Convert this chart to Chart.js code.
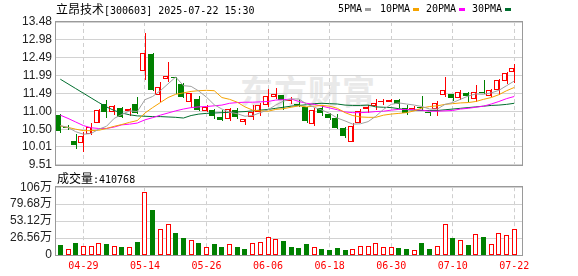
<!DOCTYPE html>
<html><head><meta charset="utf-8">
<script src="https://cdn.jsdelivr.net/npm/chart.js@4"></script>
<style>
html,body{margin:0;padding:0;background:#fff}
body{width:578px;height:276px;overflow:hidden;position:relative}
canvas{position:absolute;left:0}
#pc{top:0;z-index:2}
#vc{top:176px;z-index:2}
.t{position:absolute;white-space:pre;line-height:14px;color:#000;z-index:3}
.cjk{font-family:"Noto Sans CJK SC";font-size:12px}
.mono{font-family:"DejaVu Sans Mono";font-size:10px}
.sw{position:absolute;width:6px;height:3px;top:8px;z-index:3}
#wm{position:absolute;left:240px;top:66px;font:bold 33px "Noto Sans CJK SC";color:#e9e9e9;letter-spacing:1px;z-index:1;white-space:pre}
</style></head>
<body>
<div id="wm">东方财富</div>
<canvas id="pc" width="578" height="176"></canvas>
<canvas id="vc" width="578" height="100"></canvas>
<div class="t" style="left:56px;top:2px"><span class="cjk">立昂技术</span><span class="mono">[300603] 2025-07-22 15:30</span></div>
<div class="t mono" style="left:338px;top:2px">5PMA</div><div class="sw" style="left:365px;background:#a0a0a0"></div>
<div class="t mono" style="left:380px;top:2px">10PMA</div><div class="sw" style="left:413px;background:#f5a300"></div>
<div class="t mono" style="left:426px;top:2px">20PMA</div><div class="sw" style="left:459px;background:#ff00ff"></div>
<div class="t mono" style="left:472px;top:2px">30PMA</div><div class="sw" style="left:505px;background:#006e2e"></div>
<div class="t" style="left:57px;top:171px"><span class="cjk">成交量</span><span class="mono">:410768</span></div>
<script>
const dates = ['04-24','04-25','04-28','04-29','04-30','05-06','05-07','05-08','05-09','05-12','05-13','05-14','05-15','05-16','05-19','05-20','05-21','05-22','05-23','05-26','05-27','05-28','05-29','05-30','06-03','06-04','06-05','06-06','06-09','06-10','06-11','06-12','06-13','06-16','06-17','06-18','06-19','06-20','06-23','06-24','06-25','06-26','06-27','06-30','07-01','07-02','07-03','07-04','07-07','07-08','07-09','07-10','07-11','07-14','07-15','07-16','07-17','07-18','07-21','07-22'];
const tickDates = ['04-29','05-14','05-26','06-06','06-18','06-30','07-10','07-22'];
const opens  = [10.90,10.55,10.16,10.12,10.38,10.68,11.19,10.98,11.10,11.00,11.20,12.11,12.60,11.44,11.89,11.95,11.75,11.26,11.35,11.00,11.04,10.85,10.79,11.04,10.70,10.84,10.99,11.16,11.40,11.46,11.28,11.20,11.11,10.64,11.10,10.91,10.81,10.53,10.15,10.66,11.06,11.15,11.25,11.26,11.32,11.09,11.07,11.10,10.96,11.06,11.44,11.49,11.37,11.50,11.33,11.54,11.43,11.59,11.84,12.08];
const highs  = [10.92,10.62,10.36,10.42,10.68,11.05,11.32,11.16,11.12,11.08,11.40,13.18,12.61,11.80,12.37,11.96,11.78,11.51,11.43,11.16,11.06,11.04,11.09,11.08,10.79,11.18,11.24,11.62,11.64,11.46,11.40,11.32,11.11,11.08,11.16,10.95,10.91,10.57,10.66,11.06,11.18,11.34,11.35,11.33,11.35,11.16,11.15,11.43,10.98,11.27,11.96,11.49,11.60,11.54,11.72,11.86,11.62,11.90,12.10,12.31];
const lows   = [10.40,10.47,9.94,9.86,10.33,10.67,10.81,10.89,10.80,10.86,10.93,11.87,11.57,11.25,11.80,11.49,11.36,11.09,11.00,10.97,10.79,10.73,10.72,10.77,10.62,10.75,10.86,11.12,11.34,11.03,11.21,11.12,10.68,10.60,10.86,10.75,10.51,10.26,10.14,10.66,10.95,11.03,11.16,11.25,11.08,10.89,11.03,11.04,10.86,10.86,11.39,11.27,11.32,11.25,11.26,11.47,11.40,11.46,11.76,11.78];
const closes = [10.45,10.53,10.05,10.30,10.56,11.04,10.97,11.15,10.83,11.05,10.95,12.61,11.59,11.66,11.98,11.91,11.39,11.50,11.03,11.13,10.86,10.76,11.06,10.83,10.77,10.99,11.17,11.42,11.49,11.32,11.30,11.18,10.72,11.03,10.95,10.82,10.53,10.31,10.60,11.01,11.12,11.24,11.27,11.32,11.21,10.96,11.09,11.08,10.95,11.23,11.59,11.36,11.53,11.41,11.53,11.52,11.58,11.86,12.07,12.19];
const prevClose = 10.90;
const ma5  = [10.60,10.55,10.43,10.36,10.38,10.50,10.58,10.80,10.91,11.01,10.99,11.32,11.41,11.57,11.76,11.95,11.71,11.69,11.56,11.39,11.18,11.06,10.97,10.93,10.86,10.88,10.96,11.04,11.17,11.28,11.34,11.34,11.20,11.11,11.03,10.94,10.81,10.73,10.64,10.65,10.71,10.86,11.05,11.19,11.23,11.20,11.17,11.13,11.06,11.06,11.19,11.24,11.33,11.42,11.48,11.47,11.51,11.58,11.71,11.84];
const ma10 = [10.59,10.55,10.50,10.46,10.46,10.47,10.52,10.58,10.63,10.69,10.74,10.95,11.10,11.24,11.38,11.47,11.51,11.55,11.57,11.58,11.57,11.38,11.33,11.25,11.12,11.03,11.01,11.00,11.05,11.07,11.11,11.15,11.12,11.14,11.16,11.14,11.08,10.96,10.88,10.84,10.83,10.83,10.89,10.92,10.94,10.96,11.01,11.09,11.13,11.15,11.19,11.21,11.23,11.24,11.27,11.33,11.38,11.46,11.57,11.66];
const ma20 = [10.89,10.80,10.70,10.60,10.54,10.52,10.52,10.56,10.62,10.64,10.67,10.76,10.82,10.89,10.95,11.01,11.06,11.10,11.12,11.13,11.15,11.17,11.22,11.24,11.25,11.25,11.26,11.27,11.31,11.32,11.34,11.27,11.22,11.19,11.14,11.09,11.04,10.98,10.96,10.96,10.97,10.99,11.00,11.03,11.05,11.05,11.04,11.03,11.00,11.00,11.01,11.02,11.06,11.08,11.11,11.14,11.20,11.27,11.35,11.41];
const ma30 = [11.89,11.76,11.63,11.50,11.37,11.24,11.12,11.02,10.95,10.90,10.87,10.86,10.85,10.85,10.84,10.83,10.81,10.88,10.92,10.94,10.95,10.96,10.97,10.98,10.99,11.01,11.03,11.05,11.08,11.11,11.14,11.16,11.18,11.21,11.22,11.21,11.20,11.17,11.16,11.16,11.17,11.12,11.11,11.10,11.07,11.04,11.03,11.02,11.02,11.02,11.04,11.06,11.08,11.10,11.12,11.14,11.16,11.17,11.19,11.22];
const volumes = [15.8,9.7,18.9,13.8,13.8,18.4,17.4,14.3,12.8,12.8,20.4,98.1,71.0,41.4,49.0,34.2,26.6,23.5,18.9,12.8,17.4,12.8,16.9,12.8,9.7,18.4,20.4,27.6,24.5,22.0,12.8,11.2,17.4,12.3,9.7,8.2,11.2,8.2,9.2,13.8,13.8,18.4,12.3,12.3,11.2,9.7,7.7,18.9,9.7,13.8,49.0,26.6,23.5,15.8,32.2,28.1,16.9,33.7,30.6,41.0768];
const priceTickLabels = ['9.51','10.01','10.50','11.00','11.49','11.99','12.49','12.98','13.48'];
const volTickValues = [0,26.56,53.12,79.68,106.24];
const volTickLabels = ['0','26.56万','53.12万','79.68万','106万'];

const RED='#ff0000', GREEN='#008000', WHITE='#ffffff';
const xMin=-0.56, xMax=60;
const tickIdx = tickDates.map(d=>dates.indexOf(d));
const idx = dates.map((d,i)=>i);
const up = idx.map(i=>closes[i]>=opens[i]);
const volUp = idx.map(i=>closes[i]>=(i===0?prevClose:closes[i-1]));

function xAxis(showLabels){
  return {
    type:'linear', min:xMin, max:xMax, offset:false,
    afterBuildTicks:s=>{ s.ticks = tickIdx.map(v=>({value:v})); },
    afterFit:s=>{ s.height = showLabels?21:0; },
    grid:{color:'#cfcfcf', lineWidth:1, drawTicks:false, offset:false},
    border:{display:false, dash:[4,3]},
    ticks:{display:showLabels, color:RED, autoSkip:false, maxRotation:0, padding:5,
      font:{family:'DejaVu Sans Mono', size:10}, callback:v=>dates[v]}
  };
}
const boxPlugin = {id:'box', afterDraw(c){
  const a=c.chartArea, ctx=c.ctx; ctx.save();
  ctx.strokeStyle='#9a9a9a'; ctx.lineWidth=1;
  ctx.strokeRect(Math.round(a.left)-0.5, Math.round(a.top)-0.5, Math.round(a.right-a.left)+1, Math.round(a.bottom-a.top)+1);
  ctx.restore();
}};
// snap library-computed bar geometry to whole pixels so 1px strokes stay crisp
const snapPlugin = {id:'snap', afterDatasetsUpdate(c){
  c.getSortedVisibleDatasetMetas().forEach(m=>{
    if(m.type!=='bar') return;
    m.data.forEach(el=>{
      const w=Math.round(el.width);
      el.x = (w%2===1) ? Math.floor(el.x)+0.5 : Math.round(el.x);
      let y=Math.round(el.y), b=Math.round(el.base);
      if(y===b){ if(el.y<el.base) y=b-1; else b=y+1; }
      el.y=y; el.base=b;
    });
  });
}};
const yFont = {family:'Liberation Sans', size:12};
const line = (data,color)=>({type:'line', data:idx.map(i=>({x:i,y:data[i]})), borderColor:color, borderWidth:1, pointRadius:0, tension:0, order:0});

new Chart(document.getElementById('pc'), {
  type:'bar',
  data:{datasets:[
    {data:idx.map(i=>({x:i,y:[lows[i],highs[i]]})), backgroundColor:idx.map(i=>up[i]?RED:GREEN), barThickness:1, borderWidth:0, inflateAmount:0, order:3},
    {data:idx.map(i=>({x:i,y:[opens[i],closes[i]]})), backgroundColor:idx.map(i=>up[i]?WHITE:GREEN), borderColor:idx.map(i=>up[i]?RED:GREEN), borderWidth:1, borderSkipped:false, barThickness:5, minBarLength:1, inflateAmount:0, order:2},
    line(ma5,'#a0a0a0'), line(ma10,'#f5a300'), line(ma20,'#ff00ff'), line(ma30,'#006e2e')
  ]},
  options:{responsive:false, animation:false, events:[],
    layout:{padding:{left:0,right:56,top:22,bottom:11}},
    plugins:{legend:{display:false}, tooltip:{enabled:false}},
    scales:{
      x:xAxis(false),
      y:{type:'linear', min:9.51, max:13.48,
        afterBuildTicks:s=>{ s.ticks = priceTickLabels.map(v=>({value:parseFloat(v)})); },
        afterFit:s=>{ s.width=56; },
        grid:{color:'#d2d2d2', drawTicks:false}, border:{display:false},
        ticks:{autoSkip:false, color:'#222', padding:4, font:yFont, callback:(v,i)=>priceTickLabels[i]}}
    }},
  plugins:[snapPlugin, boxPlugin]
});

new Chart(document.getElementById('vc'), {
  type:'bar',
  data:{datasets:[
    {data:idx.map(i=>({x:i,y:volumes[i]})), backgroundColor:idx.map(i=>volUp[i]?WHITE:GREEN), borderColor:idx.map(i=>volUp[i]?RED:GREEN), borderWidth:1, borderSkipped:false, barThickness:5, inflateAmount:0}
  ]},
  options:{responsive:false, animation:false, events:[],
    layout:{padding:{left:0,right:56,top:10,bottom:0}},
    plugins:{legend:{display:false}, tooltip:{enabled:false}},
    scales:{
      x:xAxis(true),
      y:{type:'linear', min:0, max:106.24,
        afterBuildTicks:s=>{ s.ticks = volTickValues.map(v=>({value:v})); },
        afterFit:s=>{ s.width=56; },
        grid:{color:'#d2d2d2', drawTicks:false}, border:{display:false},
        ticks:{autoSkip:false, color:'#222', padding:4, font:{family:'Liberation Sans, Noto Sans CJK SC', size:12}, callback:(v,i)=>volTickLabels[i]}}
    }},
  plugins:[snapPlugin, boxPlugin]
});
</script>
</body></html>
